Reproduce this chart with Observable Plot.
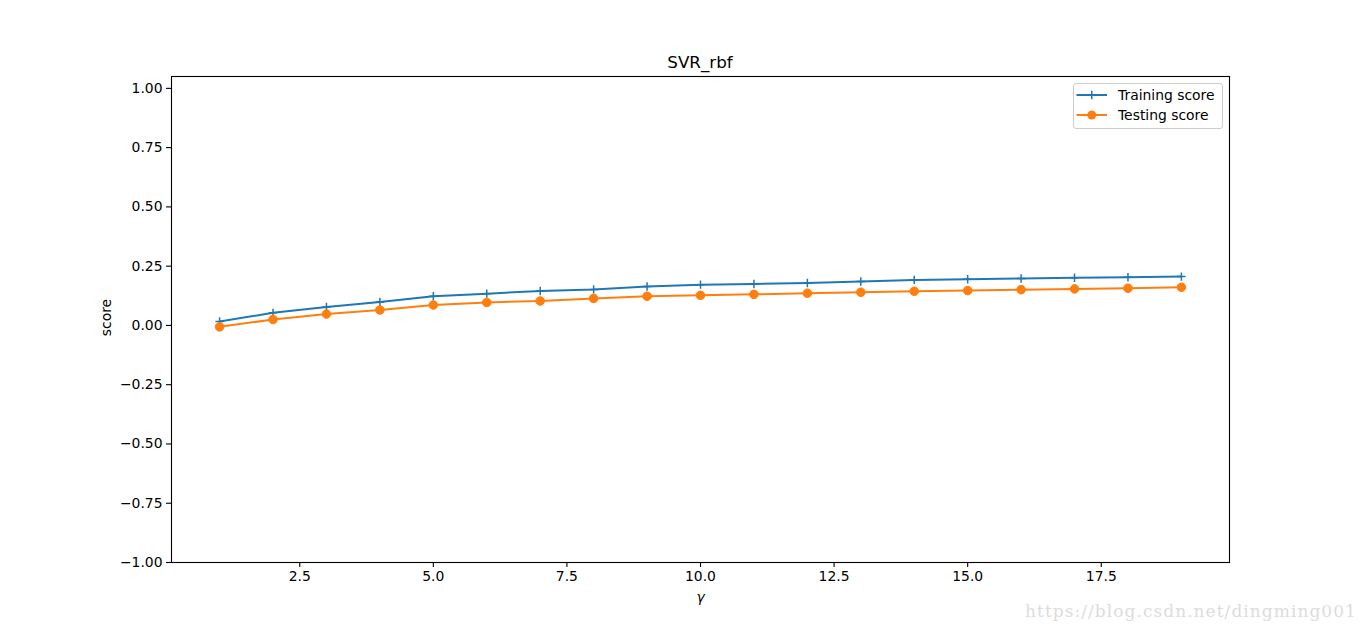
<!DOCTYPE html>
<html>
<head>
<meta charset="utf-8">
<script src="https://cdn.jsdelivr.net/npm/d3@7"></script>
<script src="https://cdn.jsdelivr.net/npm/@observablehq/plot@0.6"></script>
<style>
  html, body { margin: 0; padding: 0; background: white; }
  #wrap { position: relative; width: 1366px; height: 632px; font-family: "DejaVu Sans", sans-serif; color: black; overflow: hidden; }
  #title { height: 20px; padding-top: 52px; line-height: 20px; text-align: center; font-size: 16.7px; width: 1400px; }
  #legend { position: absolute; left: 1073px; top: 83px; width: 148px; height: 44px; border: 1px solid #cccccc; border-radius: 3px; background: rgba(255,255,255,0.8); font-size: 13.9px; }
  #legend .row { position: absolute; left: 0; height: 20px; line-height: 20px; }
  #legend svg { position: absolute; left: 2px; top: 0; }
  #legend span { position: absolute; left: 44px; white-space: nowrap; }
  #mark { position: absolute; left: 1025px; top: 601px; font-family: "DejaVu Serif", serif; font-size: 17px; color: #dcdcdc; letter-spacing: 1.05px; white-space: nowrap; }
</style>
</head>
<body>
<div id="wrap">
  <div id="title"></div>
  <div id="chart"></div>
  <div id="legend"></div>
  <div id="mark">https://blog.csdn.net/dingming001</div>
</div>
<script>
const chartTitle = "SVR_rbf";
const xLabel = "γ";
const yLabel = "score";
const seriesNames = ["Training score", "Testing score"];
const seriesColors = ["#1f77b4", "#ff7f0e"];
const gammas = [1, 2, 3, 4, 5, 6, 7, 8, 9, 10, 11, 12, 13, 14, 15, 16, 17, 18, 19];
const trainingScores = [0.017, 0.053, 0.078, 0.099, 0.123, 0.134, 0.145, 0.152, 0.164, 0.172, 0.175, 0.179, 0.185, 0.192, 0.195, 0.198, 0.201, 0.203, 0.206];
const testingScores = [-0.006, 0.025, 0.048, 0.065, 0.086, 0.097, 0.103, 0.114, 0.123, 0.127, 0.131, 0.136, 0.140, 0.144, 0.147, 0.151, 0.154, 0.157, 0.161];
const xTicks = [2.5, 5.0, 7.5, 10.0, 12.5, 15.0, 17.5];
const yTicks = [-1.0, -0.75, -0.5, -0.25, 0.0, 0.25, 0.5, 0.75, 1.0];

document.getElementById("title").textContent = chartTitle;

const training = gammas.map((g, i) => ({x: g, y: trainingScores[i]}));
const testing = gammas.map((g, i) => ({x: g, y: testingScores[i]}));

const thinPlus = {
  draw(context, size) {
    const r = Math.sqrt(size / Math.PI);
    context.moveTo(-r, 0); context.lineTo(r, 0);
    context.moveTo(0, -r); context.lineTo(0, r);
  }
};

const chart = Plot.plot({
  width: 1366,
  height: 560,
  marginLeft: 171,
  marginRight: 137,
  marginTop: 4,
  marginBottom: 70,
  style: {fontFamily: "DejaVu Sans, sans-serif", fontSize: "13.9px", color: "black", background: "white", overflow: "visible"},
  x: {domain: [0.1, 19.9]},
  y: {domain: [-1.0, 1.05]},
  marks: [
    Plot.axisX({ticks: xTicks, tickFormat: d3.format(".1f"), tickSize: 5, tickPadding: 4, label: null, stroke: "black", strokeWidth: 1.1}),
    Plot.axisY({ticks: yTicks, tickFormat: d3.format(".2f"), tickSize: 5, tickPadding: 4, label: null, stroke: "black", strokeWidth: 1.1}),
    Plot.line(training, {x: "x", y: "y", stroke: seriesColors[0], strokeWidth: 2}),
    Plot.dot(training, {x: "x", y: "y", symbol: thinPlus, r: 4.2, stroke: seriesColors[0], strokeWidth: 1.5, fill: "none"}),
    Plot.line(testing, {x: "x", y: "y", stroke: seriesColors[1], strokeWidth: 2}),
    Plot.dot(testing, {x: "x", y: "y", r: 4.3, fill: seriesColors[1], stroke: seriesColors[1], strokeWidth: 1}),
    Plot.text([yLabel], {frameAnchor: "left", textAnchor: "middle", lineAnchor: "middle", rotate: -90, dx: -65, dy: -2, fontSize: 13.9, fill: "black"}),
    Plot.text([xLabel], {frameAnchor: "bottom", textAnchor: "middle", lineAnchor: "middle", dy: 35, fontSize: 13.9, fontStyle: "italic", fill: "black"}),
    Plot.frame({stroke: "black", strokeWidth: 1.1})
  ]
});
document.getElementById("chart").appendChild(chart);

// Legend
const legend = document.getElementById("legend");
const rowTops = [1, 21];
seriesNames.forEach((name, i) => {
  const row = document.createElement("div");
  row.className = "row";
  row.style.top = rowTops[i] + "px";
  const ns = "http://www.w3.org/2000/svg";
  const svg = document.createElementNS(ns, "svg");
  svg.setAttribute("width", "34");
  svg.setAttribute("height", "20");
  const ln = document.createElementNS(ns, "line");
  ln.setAttribute("x1", "0.5"); ln.setAttribute("x2", "31");
  ln.setAttribute("y1", "10"); ln.setAttribute("y2", "10");
  ln.setAttribute("stroke", seriesColors[i]); ln.setAttribute("stroke-width", "2");
  svg.appendChild(ln);
  if (i === 0) {
    const p = document.createElementNS(ns, "path");
    p.setAttribute("d", "M11.6,10H19.9M15.75,5.8V14.2");
    p.setAttribute("stroke", seriesColors[i]); p.setAttribute("stroke-width", "1.5");
    svg.appendChild(p);
  } else {
    const c = document.createElementNS(ns, "circle");
    c.setAttribute("cx", "15.75"); c.setAttribute("cy", "10"); c.setAttribute("r", "4.5");
    c.setAttribute("fill", seriesColors[i]);
    svg.appendChild(c);
  }
  row.appendChild(svg);
  const sp = document.createElement("span");
  sp.textContent = name;
  row.appendChild(sp);
  legend.appendChild(row);
});
</script>
</body>
</html>
